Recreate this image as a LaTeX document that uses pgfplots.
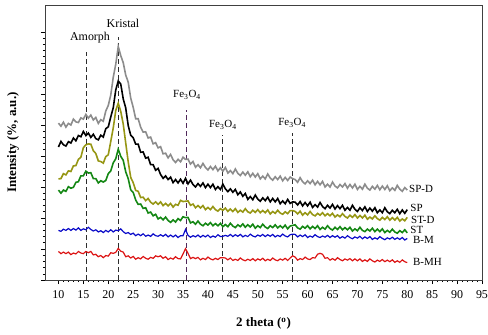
\documentclass[border=0pt]{standalone}
\usepackage{fontspec}
\setmainfont{Liberation Serif}
\usepackage{pgfplots}
\usepackage{pgfplotstable}
\pgfplotsset{compat=1.18}
\definecolor{cgray}{RGB}{140,140,140}
\definecolor{colive}{RGB}{150,150,20}
\definecolor{cgreen}{RGB}{20,135,20}
\definecolor{cblue}{RGB}{10,10,200}
\definecolor{cred}{RGB}{220,20,20}
\definecolor{cdash}{RGB}{45,45,45}
\definecolor{cpurp}{RGB}{80,40,90}

\pgfplotstableread{
x spd sp std st bm bmh
10 5.06 4.29 3.26 2.90 1.60 0.92
10.5 4.96 4.47 3.27 2.80 1.57 0.85
11 5.09 4.36 3.43 2.90 1.64 0.90
11.5 4.93 4.32 3.39 2.86 1.60 0.85
12 5.05 4.46 3.52 3.01 1.66 0.90
12.5 5.00 4.42 3.50 2.96 1.60 0.82
13 5.19 4.58 3.68 2.99 1.66 0.87
13.5 5.10 4.49 3.69 3.15 1.61 0.84
14 5.08 4.66 3.89 3.17 1.68 0.92
14.5 5.23 4.62 3.96 3.36 1.60 0.87
15 5.19 4.79 4.27 3.36 1.65 0.85
15.5 5.34 4.66 4.36 3.51 1.62 0.92
16 5.22 4.74 4.39 3.45 1.70 0.88
16.5 5.32 4.60 4.38 3.46 1.63 0.92
17 5.16 4.70 4.17 3.27 1.58 0.81
17.5 5.24 4.56 4.08 3.27 1.62 0.83
18 5.05 4.52 3.84 3.13 1.55 0.75
18.5 5.17 4.67 3.82 3.20 1.59 0.79
19 5.12 4.61 3.77 3.16 1.53 0.72
19.5 5.45 4.88 3.98 3.21 1.60 0.79
20 5.63 4.94 4.04 3.43 1.55 0.77
20.5 5.97 5.26 4.47 3.52 1.62 0.88
21 6.54 5.56 4.91 3.78 1.55 0.86
21.5 6.96 6.13 5.47 3.91 1.61 0.89
22 7.53 6.42 5.70 4.22 1.59 1.02
22.5 7.24 6.32 5.44 3.99 1.65 0.93
23 7.01 5.84 5.03 3.86 1.56 0.90
23.5 6.61 5.55 4.42 3.49 1.50 0.75
24 6.38 4.98 3.81 3.27 1.53 0.78
24.5 5.87 4.67 3.31 2.91 1.47 0.71
25 5.57 4.59 3.14 2.82 1.51 0.76
25.5 5.20 4.38 2.89 2.58 1.43 0.67
26 5.20 4.38 2.86 2.44 1.48 0.72
26.5 4.93 4.12 2.66 2.45 1.43 0.68
27 4.77 4.13 2.67 2.31 1.49 0.76
27.5 4.78 3.93 2.56 2.33 1.41 0.70
28 4.58 3.96 2.63 2.16 1.45 0.67
28.5 4.61 3.72 2.51 2.19 1.41 0.73
29 4.39 3.72 2.45 2.07 1.49 0.70
29.5 4.43 3.54 2.52 2.12 1.43 0.78
30 4.26 3.60 2.44 1.97 1.41 0.75
30.5 4.30 3.40 2.52 2.02 1.46 0.78
31 4.07 3.28 2.40 1.94 1.41 0.70
31.5 4.09 3.36 2.47 2.03 1.47 0.75
32 3.94 3.24 2.39 1.92 1.39 0.66
32.5 4.05 3.32 2.47 1.86 1.45 0.71
33 3.88 3.14 2.35 1.94 1.39 0.67
33.5 3.79 3.24 2.44 1.87 1.45 0.75
34 3.89 3.13 2.41 1.98 1.37 0.69
34.5 3.81 3.25 2.57 1.92 1.43 0.68
35 3.96 3.12 2.53 2.04 1.43 0.84
35.5 3.89 3.28 2.54 2.01 1.63 1.01
36 3.90 3.10 2.55 2.02 1.44 0.86
36.5 3.74 3.22 2.41 1.84 1.38 0.69
37 3.82 3.08 2.45 1.88 1.43 0.73
37.5 3.64 3.00 2.33 1.80 1.39 0.69
38 3.72 3.11 2.40 1.90 1.45 0.73
38.5 3.62 3.02 2.32 1.80 1.38 0.65
39 3.76 3.13 2.40 1.75 1.44 0.70
39.5 3.63 2.98 2.27 1.83 1.39 0.66
40 3.55 3.09 2.34 1.77 1.45 0.74
40.5 3.66 2.98 2.27 1.85 1.37 0.68
41 3.56 3.09 2.37 1.75 1.42 0.65
41.5 3.67 2.92 2.27 1.82 1.38 0.70
42 3.52 3.01 2.22 1.75 1.46 0.66
42.5 3.62 2.92 2.30 1.83 1.40 0.72
43 3.51 3.09 2.25 1.72 1.41 0.72
43.5 3.63 2.94 2.32 1.79 1.44 0.71
44 3.45 2.85 2.21 1.72 1.41 0.65
44.5 3.53 2.94 2.29 1.83 1.47 0.71
45 3.43 2.83 2.21 1.74 1.40 0.63
45.5 3.58 2.92 2.30 1.69 1.46 0.67
46 3.44 2.75 2.18 1.78 1.41 0.63
46.5 3.37 2.84 2.25 1.72 1.47 0.71
47 3.48 2.70 2.19 1.81 1.39 0.65
47.5 3.38 2.79 2.30 1.70 1.44 0.62
48 3.49 2.60 2.20 1.78 1.40 0.67
48.5 3.33 2.69 2.16 1.71 1.48 0.63
49 3.44 2.59 2.25 1.80 1.42 0.69
49.5 3.32 2.74 2.18 1.67 1.39 0.62
50 3.43 2.61 2.27 1.75 1.45 0.68
50.5 3.26 2.54 2.17 1.69 1.41 0.64
51 3.35 2.65 2.24 1.80 1.47 0.70
51.5 3.26 2.56 2.17 1.71 1.40 0.62
52 3.42 2.67 2.26 1.66 1.46 0.67
52.5 3.29 2.52 2.13 1.75 1.41 0.63
53 3.22 2.63 2.21 1.69 1.47 0.71
53.5 3.33 2.52 2.15 1.78 1.39 0.65
54 3.24 2.63 2.25 1.68 1.44 0.62
54.5 3.35 2.46 2.16 1.75 1.40 0.68
55 3.20 2.55 2.12 1.68 1.48 0.64
55.5 3.31 2.46 2.20 1.77 1.42 0.70
56 3.21 2.60 2.14 1.65 1.39 0.63
56.5 3.32 2.47 2.24 1.74 1.46 0.71
57 3.27 2.52 2.24 1.76 1.48 0.78
57.5 3.24 2.51 2.21 1.78 1.47 0.74
58 3.15 2.42 2.13 1.68 1.39 0.64
58.5 3.30 2.53 2.22 1.64 1.45 0.69
59 3.17 2.39 2.09 1.73 1.40 0.66
59.5 3.10 2.50 2.17 1.67 1.46 0.74
60 3.20 2.39 2.10 1.75 1.37 0.68
60.5 3.11 2.51 2.21 1.65 1.42 0.66
61 3.22 2.34 2.11 1.73 1.38 0.72
61.5 3.07 2.43 2.07 1.66 1.46 0.71
62 3.18 2.35 2.15 1.75 1.40 0.83
62.5 3.07 2.50 2.09 1.63 1.37 0.86
63 3.18 2.37 2.17 1.70 1.42 0.83
63.5 3.00 2.30 2.07 1.64 1.38 0.70
64 3.09 2.41 2.14 1.75 1.44 0.72
64.5 3.00 2.32 2.07 1.66 1.37 0.64
65 3.16 2.44 2.15 1.61 1.43 0.69
65.5 3.03 2.29 2.03 1.70 1.38 0.64
66 2.97 2.40 2.10 1.63 1.43 0.72
66.5 3.08 2.30 2.04 1.72 1.35 0.66
67 3.00 2.41 2.14 1.62 1.40 0.62
67.5 3.11 2.25 2.05 1.69 1.35 0.68
68 2.96 2.34 2.00 1.62 1.43 0.64
68.5 3.08 2.25 2.09 1.70 1.37 0.69
69 2.97 2.41 2.02 1.58 1.33 0.62
69.5 3.09 2.28 2.11 1.65 1.39 0.68
70 2.92 2.21 2.00 1.59 1.35 0.62
70.5 3.02 2.33 2.08 1.70 1.41 0.68
71 2.93 2.24 2.00 1.60 1.33 0.60
71.5 3.09 2.36 2.09 1.56 1.39 0.65
72 2.96 2.21 1.96 1.64 1.34 0.60
72.5 2.90 2.32 2.03 1.58 1.40 0.68
73 3.02 2.22 1.97 1.67 1.31 0.62
73.5 2.93 2.33 2.07 1.56 1.36 0.58
74 3.05 2.17 1.98 1.64 1.32 0.64
74.5 2.91 2.26 1.93 1.56 1.40 0.60
75 3.03 2.17 2.02 1.65 1.34 0.66
75.5 2.92 2.33 1.95 1.53 1.30 0.59
76 3.04 2.20 2.04 1.60 1.36 0.64
76.5 2.88 2.14 1.93 1.54 1.32 0.59
77 2.97 2.25 2.01 1.64 1.38 0.65
77.5 2.89 2.17 1.93 1.55 1.31 0.57
78 3.05 2.28 2.02 1.51 1.36 0.62
78.5 2.93 2.14 1.90 1.59 1.31 0.57
79 2.86 2.26 1.97 1.53 1.37 0.65
79.5 2.98 2.15 1.91 1.62 1.29 0.59
80 2.90 2.27 2.02 1.52 1.34 0.56
}\xrd

\begin{document}
\begin{tikzpicture}
\begin{axis}[
  scale only axis, width=437bp, height=275bp,
  xmin=7.3, xmax=95, ymin=0, ymax=8.87,
  xtick={10,15,...,95}, minor x tick num=4,
  ytick={0,1,...,8}, yticklabels={}, minor y tick num=4,
  tick align=outside, xtick pos=bottom, ytick pos=left,
  major tick length=4bp, minor tick length=2.2bp,
  every tick/.style={black, line width=0.6pt},
  axis line style={black!75, line width=0.9pt},
  /pgf/number format/assume math mode=true,
  ticklabel style={font=\fontsize{12}{14}\selectfont},
  xticklabel style={yshift=-3bp},
  xlabel={\textbf{2 theta (\textsuperscript{o})}},
  ylabel={\textbf{Intensity (\%, a.u.)}},
  label style={font=\fontsize{13}{15}\selectfont},
  xlabel style={at={(axis description cs:0.5,-0.158)},anchor=center},
  ylabel style={at={(axis description cs:-0.073,0.5)},anchor=center},
  clip=false,
]
% reference lines
\addplot[cdash, line width=0.9pt, dash pattern=on 5bp off 3bp] coordinates {(15.6,0) (15.6,7.35)};
\addplot[cdash, line width=0.9pt, dash pattern=on 5bp off 3bp] coordinates {(22,0) (22,7.84)};
\addplot[cpurp, line width=0.9pt, dash pattern=on 5bp off 3bp] coordinates {(35.7,0) (35.7,5.48)};
\addplot[cdash, line width=0.9pt, dash pattern=on 5bp off 3bp] coordinates {(43,0) (43,4.68)};
\addplot[cdash, line width=0.9pt, dash pattern=on 5bp off 3bp] coordinates {(57,0) (57,4.74)};
% series
\addplot[cgray, line width=1.6pt] table[x=x, y=spd] {\xrd};
\addplot[black, line width=1.6pt] table[x=x, y=sp] {\xrd};
\addplot[colive, line width=1.6pt] table[x=x, y=std] {\xrd};
\addplot[cgreen, line width=1.6pt] table[x=x, y=st] {\xrd};
\addplot[cblue, line width=1.2pt] table[x=x, y=bm] {\xrd};
\addplot[cred, line width=1.2pt] table[x=x, y=bmh] {\xrd};
% annotations
\node[font=\fontsize{12}{14}\selectfont] at (axis cs:16.33,7.81) {Amorph};
\node[font=\fontsize{12}{14}\selectfont] at (axis cs:22.95,8.29) {Kristal};
\node[font=\fontsize{11}{13}\selectfont] at (axis cs:35.8,5.97) {Fe\textsubscript{3}O\textsubscript{4}};
\node[font=\fontsize{11}{13}\selectfont] at (axis cs:43.0,5.0) {Fe\textsubscript{3}O\textsubscript{4}};
\node[font=\fontsize{11}{13}\selectfont] at (axis cs:56.9,5.06) {Fe\textsubscript{3}O\textsubscript{4}};
\node[font=\fontsize{11}{12}\selectfont, anchor=west, inner sep=0pt] at (axis cs:80.35,2.94) {SP-D};
\node[font=\fontsize{11}{12}\selectfont, anchor=west, inner sep=0pt] at (axis cs:80.6,2.31) {SP};
\node[font=\fontsize{11}{12}\selectfont, anchor=west, inner sep=0pt] at (axis cs:80.75,1.95) {ST-D};
\node[font=\fontsize{11}{12}\selectfont, anchor=west, inner sep=0pt] at (axis cs:80.6,1.62) {ST};
\node[font=\fontsize{11}{12}\selectfont, anchor=west, inner sep=0pt] at (axis cs:81.15,1.28) {B-M};
\node[font=\fontsize{11}{12}\selectfont, anchor=west, inner sep=0pt] at (axis cs:81.15,0.58) {B-MH};
\end{axis}
\pgfresetboundingbox
\path[use as bounding box] (-45bp,-55bp) rectangle (443bp,280bp);
\end{tikzpicture}
\end{document}
